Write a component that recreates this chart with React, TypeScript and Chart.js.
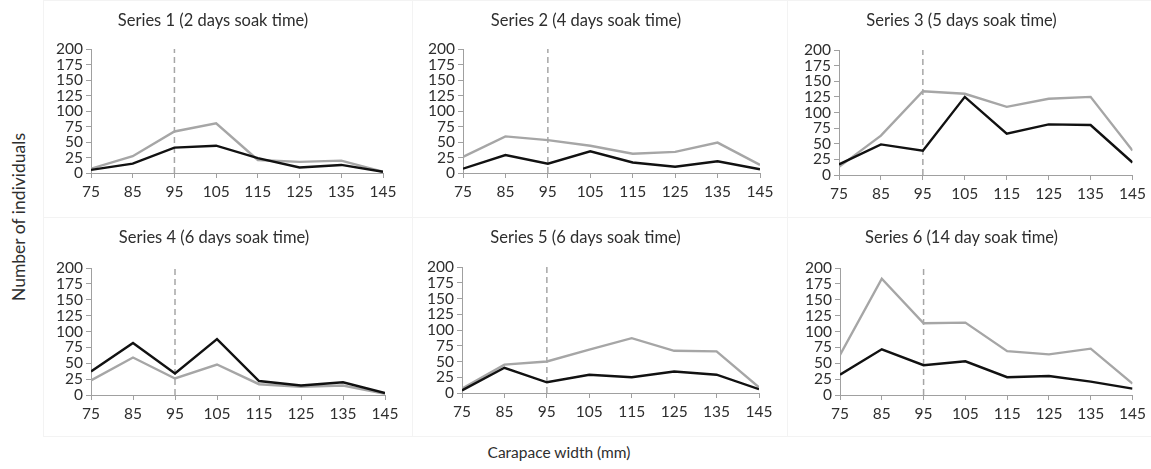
import React, { useEffect, useRef } from 'react';
import { Chart, registerables } from 'chart.js';

Chart.register(...registerables);

// ---- Data ----
const carapaceWidths = [75, 85, 95, 105, 115, 125, 135, 145];
const yTickValues = [0, 25, 50, 75, 100, 125, 150, 175, 200];
const markerWidth = 95;

const titles = [
  'Series 1 (2 days soak time)',
  'Series 2 (4 days soak time)',
  'Series 3 (5 days soak time)',
  'Series 4 (6 days soak time)',
  'Series 5 (6 days soak time)',
  'Series 6 (14 day soak time)',
];

const series1Black = [5, 15, 41, 44, 24, 9, 13, 2];
const series1Gray = [7, 27, 67, 80, 21, 18, 20, 2];
const series2Black = [7, 29, 15, 35, 17, 10, 19, 6];
const series2Gray = [26, 59, 53, 44, 31, 34, 49, 13];
const series3Black = [17, 49, 39, 125, 66, 81, 80, 20];
const series3Gray = [13, 63, 134, 130, 109, 122, 125, 39];
const series4Black = [37, 82, 34, 88, 22, 15, 20, 3];
const series4Gray = [23, 59, 26, 48, 17, 13, 15, 2];
const series5Black = [4, 40, 17, 29, 25, 34, 29, 6];
const series5Gray = [7, 45, 50, 69, 87, 67, 66, 9];
const series6Black = [32, 72, 47, 53, 28, 30, 21, 10];
const series6Gray = [63, 183, 113, 114, 69, 64, 73, 18];

const blackSeries = [series1Black, series2Black, series3Black, series4Black, series5Black, series6Black];
const graySeries = [series1Gray, series2Gray, series3Gray, series4Gray, series5Gray, series6Gray];

// ---- Layout (pixels) ----
const boxes = [
  { left: 43, right: 412, top: 0, bottom: 217 },
  { left: 412, right: 787, top: 0, bottom: 217 },
  { left: 787, right: 1151, top: 0, bottom: 217 },
  { left: 43, right: 412, top: 217, bottom: 436 },
  { left: 412, right: 787, top: 217, bottom: 436 },
  { left: 787, right: 1151, top: 217, bottom: 436 },
];
const areas = [
  { left: 91, right: 383, top: 49, bottom: 173 },
  { left: 463, right: 760, top: 49, bottom: 173 },
  { left: 839, right: 1136, top: 50, bottom: 175 },
  { left: 91, right: 385, top: 268, bottom: 395 },
  { left: 462, right: 759, top: 267, bottom: 393 },
  { left: 840, right: 1136, top: 268, bottom: 395 },
];
const TITLE_CENTER = 21;
const FONT = 'Lato, "Open Sans", sans-serif';
const AXIS_COLOR = '#a0a0a0';
const TEXT_COLOR = '#2e2e2e';

function Panel({ idx }: { idx: number }) {
  const ref = useRef<HTMLCanvasElement>(null);
  const box = boxes[idx];
  const area = areas[idx];
  const w = box.right - box.left;
  const h = box.bottom - box.top;

  useEffect(() => {
    if (!ref.current) return;
    const titleSize = 16.5;
    const lh = titleSize * 1.2;
    const padTop = TITLE_CENTER - lh / 2;
    const padBottom = area.top - box.top - padTop - lh;
    const yWidth = area.left - box.left;
    const xHeight = box.bottom - area.bottom;
    const rightPad = box.right - area.right;

    const chart = new Chart(ref.current, {
      type: 'line',
      data: {
        datasets: [
          {
            data: carapaceWidths.map((x, i) => ({ x, y: blackSeries[idx][i] })),
            borderColor: '#111111',
            borderWidth: 2.4,
            pointRadius: 0,
            tension: 0,
          },
          {
            data: carapaceWidths.map((x, i) => ({ x, y: graySeries[idx][i] })),
            borderColor: '#a6a6a6',
            borderWidth: 2.4,
            pointRadius: 0,
            tension: 0,
          },
          {
            data: [
              { x: markerWidth, y: 0 },
              { x: markerWidth, y: 200 },
            ],
            borderColor: '#a6a6a6',
            borderWidth: 1.5,
            borderDash: [6, 4],
            pointRadius: 0,
          },
        ],
      },
      options: {
        animation: false,
        responsive: false,
        devicePixelRatio: 1,
        layout: { padding: { left: 0, right: rightPad, top: 0, bottom: 0 } },
        plugins: {
          legend: { display: false },
          tooltip: { enabled: false },
          title: {
            display: true,
            text: titles[idx],
            color: TEXT_COLOR,
            font: { family: FONT, size: titleSize, weight: 'normal' },
            padding: { top: padTop, bottom: padBottom },
          },
        },
        scales: {
          x: {
            type: 'linear',
            min: 75,
            max: 145,
            afterBuildTicks: (s: any) => {
              s.ticks = carapaceWidths.map((v) => ({ value: v }));
            },
            afterFit: (s: any) => {
              s.height = xHeight;
            },
            grid: { drawOnChartArea: false, drawTicks: true, tickLength: 5, color: AXIS_COLOR },
            border: { display: true, color: AXIS_COLOR, width: 1 },
            ticks: {
              color: TEXT_COLOR,
              font: { family: FONT, size: 15.5 },
              padding: 5,
              maxRotation: 0,
              autoSkip: false,
            },
          },
          y: {
            min: 0,
            max: 200,
            afterBuildTicks: (s: any) => {
              s.ticks = yTickValues.map((v) => ({ value: v }));
            },
            afterFit: (s: any) => {
              s.width = yWidth;
            },
            grid: { drawOnChartArea: false, drawTicks: true, tickLength: 5, color: AXIS_COLOR },
            border: { display: true, color: AXIS_COLOR, width: 1 },
            ticks: {
              color: TEXT_COLOR,
              font: { family: FONT, size: 15.5 },
              padding: 3,
              autoSkip: false,
            },
          },
        },
      },
    } as any);
    return () => chart.destroy();
  }, [idx]);

  return (
    <>
      <div
        style={{
          position: 'absolute',
          left: box.left,
          top: box.top,
          width: w - 1,
          height: h - 1,
          border: '1px solid #f3f3f3',
          boxSizing: 'content-box',
        }}
      />
      <canvas
        ref={ref}
        width={w}
        height={h}
        style={{ position: 'absolute', left: box.left, top: box.top, width: w, height: h }}
      />
    </>
  );
}

export default function App() {
  return (
    <div
      style={{
        position: 'fixed',
        left: 0,
        top: 0,
        width: 1151,
        height: 469,
        background: '#ffffff',
        overflow: 'hidden',
        fontFamily: FONT,
      }}
    >
      {titles.map((_, i) => (
        <Panel key={i} idx={i} />
      ))}
      <div
        style={{
          position: 'absolute',
          left: 18,
          top: 217,
          transform: 'translate(-50%, -50%) rotate(-90deg)',
          whiteSpace: 'nowrap',
          fontSize: 17.5,
          color: TEXT_COLOR,
        }}
      >
        Number of individuals
      </div>
      <div
        style={{
          position: 'absolute',
          left: 559,
          top: 452,
          transform: 'translate(-50%, -50%)',
          whiteSpace: 'nowrap',
          fontSize: 15.5,
          color: TEXT_COLOR,
        }}
      >
        Carapace width (mm)
      </div>
    </div>
  );
}
